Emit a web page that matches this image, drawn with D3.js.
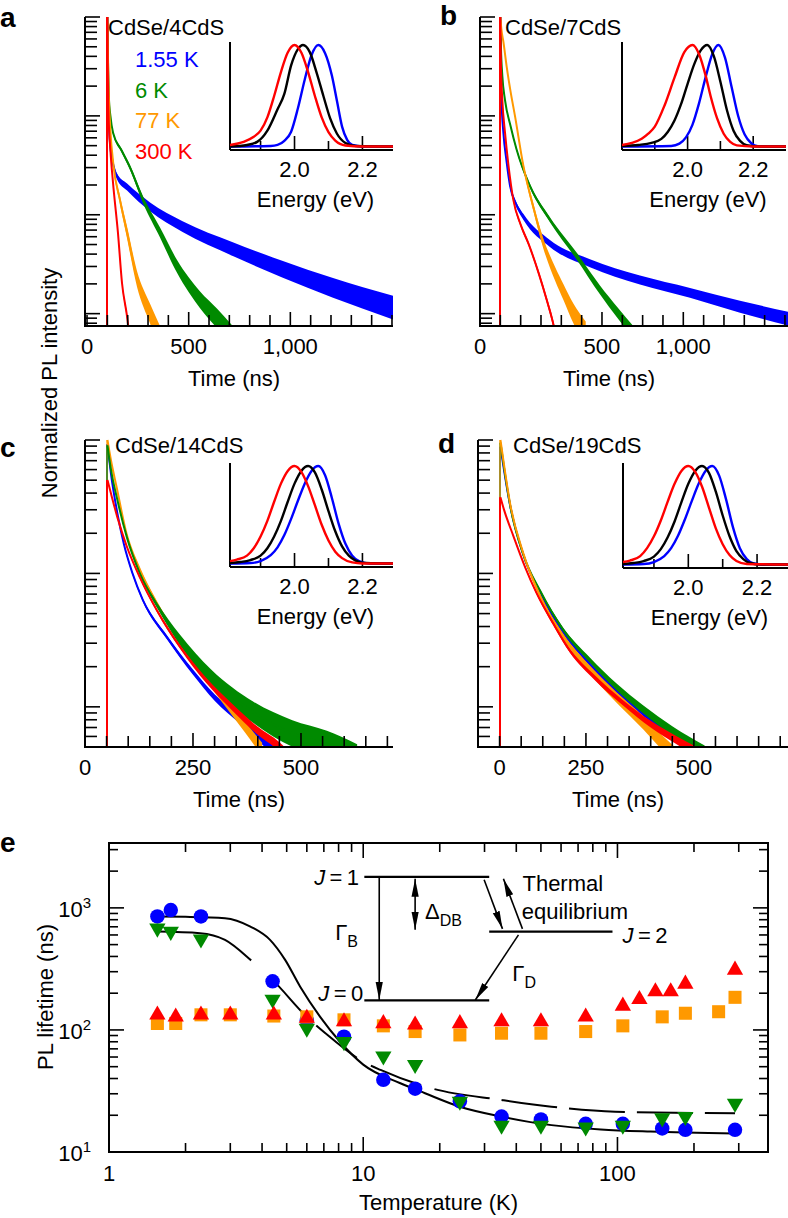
<!DOCTYPE html>
<html><head><meta charset="utf-8">
<script src="https://cdn.jsdelivr.net/npm/d3@7"></script>
<style>
body{margin:0;background:#fff}
svg{display:block}
text{font-family:"Liberation Sans",Arial,Helvetica,sans-serif;fill:#000}
</style></head>
<body><svg id="chart" width="788" height="1218"></svg>
<script>
// ================= DATA =================
// Decay traces: [time (ns), log10 normalized PL intensity, noise half-width (decades)]
// Panel a: CdSe/4CdS
const aBlue  =[[100,0,0],[103,-0.5,0],[106,-0.95,0.01],[113,-1.27,0.02],[125,-1.45,0.025],[147,-1.61,0.03],[197,-1.72,0.035],[310,-1.92,0.045],[470,-2.12,0.055],[720,-2.35,0.07],[960,-2.55,0.085],[1210,-2.74,0.1],[1505,-2.94,0.12]];
const aGreen =[[100,0,0],[103,-0.4,0],[107,-0.8,0.01],[115,-1.0,0.01],[128,-1.17,0.015],[170,-1.35,0.02],[211,-1.52,0.025],[276,-1.85,0.035],[359,-2.18,0.05],[442,-2.52,0.065],[556,-2.86,0.085],[640,-3.05,0.1],[740,-3.3,0.12]];
const aOrange=[[100,0,0],[103,-0.45,0],[107,-0.8,0.01],[115,-1.15,0.015],[130,-1.5,0.025],[162,-1.85,0.04],[197,-2.18,0.06],[246,-2.65,0.08],[310,-3.0,0.1],[360,-3.25,0.12]];
const aRed   =[[100,0,0],[102,-0.5,0],[106,-1.0,0],[115,-1.35,0.005],[128,-1.68,0.01],[152,-2.18,0.015],[172,-2.69,0.02],[197,-3.03,0.03],[210,-3.25,0.03]];
// Panel b: CdSe/7CdS
const bBlue  =[[100,0,0],[102,-0.5,0],[106,-0.85,0.005],[115,-1.17,0.01],[130,-1.45,0.015],[148,-1.71,0.02],[175,-1.88,0.025],[213,-2.02,0.03],[344,-2.29,0.035],[541,-2.49,0.04],[787,-2.66,0.045],[1033,-2.79,0.05],[1279,-2.93,0.06],[1515,-3.05,0.07]];
const bGreen =[[100,0,0],[103,-0.3,0],[110,-0.6,0.005],[123,-0.84,0.01],[150,-1.1,0.01],[180,-1.34,0.015],[246,-1.71,0.02],[344,-2.05,0.025],[476,-2.42,0.035],[590,-2.76,0.045],[680,-3.0,0.055],[760,-3.2,0.06]];
const bOrange=[[100,0,0],[105,-0.12,0],[115,-0.25,0.005],[131,-0.5,0.01],[150,-0.75,0.01],[172,-1.0,0.015],[213,-1.5,0.025],[262,-1.92,0.04],[310,-2.28,0.05],[370,-2.6,0.07],[410,-2.78,0.08],[460,-3.0,0.1],[520,-3.2,0.12]];
const bRed   =[[100,0,0],[103,-0.5,0],[110,-0.85,0.005],[123,-1.17,0.01],[140,-1.5,0.01],[164,-1.85,0.015],[200,-2.1,0.02],[240,-2.3,0.02],[290,-2.6,0.025],[328,-2.86,0.03],[360,-3.1,0.035],[380,-3.3,0.04]];
// Panel c: CdSe/14CdS
const cBlue  =[[52,-0.03,0],[60,-0.25,0],[75,-0.55,0.005],[90,-0.78,0.008],[110,-1.0,0.01],[134,-1.2,0.012],[190,-1.48,0.015],[250,-1.74,0.02],[300,-1.93,0.025],[360,-2.1,0.03],[430,-2.3,0.04],[470,-2.4,0.04]];
const cOrange=[[52,0,0],[60,-0.15,0],[73,-0.35,0.005],[96,-0.7,0.008],[127,-0.97,0.01],[166,-1.22,0.012],[212,-1.47,0.015],[266,-1.72,0.02],[328,-1.98,0.03],[370,-2.15,0.04],[410,-2.32,0.05]];
const cRed   =[[52,-0.3,0],[60,-0.4,0],[75,-0.58,0.005],[97,-0.8,0.008],[127,-1.03,0.01],[167,-1.28,0.012],[220,-1.55,0.015],[280,-1.8,0.02],[340,-2.0,0.025],[400,-2.18,0.03],[450,-2.3,0.035],[480,-2.4,0.04]];
const cGreen =[[52,-0.04,0],[60,-0.22,0],[75,-0.45,0.005],[97,-0.73,0.008],[127,-1.0,0.01],[167,-1.24,0.02],[220,-1.5,0.04],[292,-1.78,0.06],[389,-2.04,0.08],[480,-2.2,0.1],[560,-2.28,0.1],[630,-2.38,0.1]];
// Panel d: CdSe/19CdS
const dBlue  =[[52,-0.05,0],[60,-0.22,0],[75,-0.5,0.005],[105,-0.86,0.008],[144,-1.15,0.01],[197,-1.44,0.012],[259,-1.68,0.015],[321,-1.88,0.018],[383,-2.05,0.02],[450,-2.2,0.025],[510,-2.32,0.03]];
const dGreen =[[52,-0.02,0],[60,-0.2,0],[75,-0.5,0.005],[105,-0.86,0.008],[144,-1.13,0.01],[197,-1.42,0.015],[259,-1.65,0.02],[321,-1.85,0.025],[383,-2.02,0.03],[450,-2.18,0.035],[525,-2.33,0.04]];
const dOrange=[[52,0,0],[60,-0.18,0],[74,-0.47,0.005],[105,-0.85,0.01],[144,-1.17,0.015],[197,-1.47,0.02],[259,-1.72,0.03],[321,-1.93,0.04],[383,-2.12,0.05],[430,-2.28,0.055],[470,-2.4,0.06]];
const dRed   =[[52,-0.43,0],[60,-0.52,0],[82,-0.72,0.005],[110,-0.96,0.008],[136,-1.15,0.01],[175,-1.38,0.012],[213,-1.58,0.015],[270,-1.78,0.018],[336,-1.97,0.02],[400,-2.13,0.025],[460,-2.25,0.03],[515,-2.35,0.035]];

// Inset PL spectra: [energy (eV), normalized intensity]
const aSpecRed  =[[1.81,0.02],[1.85,0.05],[1.88,0.1],[1.90,0.16],[1.92,0.29],[1.94,0.5],[1.96,0.735],[1.98,0.926],[2.0,1.0],[2.02,0.926],[2.04,0.735],[2.06,0.5],[2.08,0.29],[2.10,0.146],[2.12,0.063],[2.15,0.015],[2.2,0.005],[2.29,0.005]];
const aSpecBlack=[[1.81,0.005],[1.86,0.02],[1.89,0.05],[1.92,0.16],[1.95,0.37],[1.97,0.52],[1.99,0.8],[2.01,0.96],[2.025,1.0],[2.045,0.93],[2.065,0.73],[2.085,0.5],[2.105,0.28],[2.125,0.13],[2.15,0.04],[2.18,0.01],[2.29,0.005]];
const aSpecBlue =[[1.81,0.005],[1.93,0.01],[1.95,0.02],[1.97,0.06],[1.99,0.15],[2.01,0.38],[2.03,0.66],[2.05,0.9],[2.07,1.0],[2.09,0.92],[2.11,0.7],[2.125,0.45],[2.14,0.2],[2.155,0.07],[2.17,0.02],[2.2,0.005],[2.29,0.005]];
const bSpecRed  =[[1.80,0.02],[1.83,0.04],[1.86,0.08],[1.88,0.13],[1.90,0.2],[1.93,0.41],[1.96,0.68],[1.99,0.93],[2.015,1.0],[2.035,0.91],[2.055,0.7],[2.07,0.5],[2.09,0.28],[2.11,0.13],[2.13,0.05],[2.15,0.016],[2.2,0.005],[2.3,0.005]];
const bSpecBlack=[[1.80,0.01],[1.85,0.02],[1.89,0.04],[1.92,0.08],[1.94,0.15],[1.96,0.26],[1.98,0.42],[2.0,0.62],[2.02,0.81],[2.04,0.947],[2.06,1.0],[2.08,0.89],[2.10,0.64],[2.12,0.36],[2.14,0.16],[2.16,0.06],[2.18,0.017],[2.22,0.005],[2.3,0.005]];
const bSpecBlue =[[1.80,0.005],[1.95,0.01],[1.975,0.033],[1.995,0.094],[2.015,0.22],[2.035,0.43],[2.055,0.685],[2.075,0.91],[2.094,1.0],[2.114,0.877],[2.134,0.59],[2.154,0.306],[2.174,0.122],[2.194,0.037],[2.214,0.009],[2.3,0.005]];
const cSpecRed  =[[1.81,0.03],[1.83,0.045],[1.86,0.085],[1.88,0.16],[1.90,0.28],[1.92,0.44],[1.94,0.635],[1.96,0.82],[1.98,0.95],[2.0,1.0],[2.02,0.94],[2.04,0.795],[2.06,0.6],[2.08,0.4],[2.10,0.24],[2.12,0.126],[2.14,0.06],[2.17,0.016],[2.2,0.005],[2.29,0.005]];
const cSpecBlack=[[1.81,0.01],[1.84,0.02],[1.87,0.04],[1.90,0.085],[1.92,0.16],[1.94,0.28],[1.96,0.44],[1.98,0.635],[2.0,0.82],[2.02,0.95],[2.04,1.0],[2.06,0.934],[2.08,0.76],[2.10,0.54],[2.12,0.334],[2.14,0.18],[2.16,0.085],[2.18,0.035],[2.21,0.01],[2.29,0.005]];
const cSpecBlue =[[1.81,0.005],[1.87,0.01],[1.90,0.03],[1.93,0.09],[1.95,0.17],[1.97,0.295],[1.99,0.46],[2.01,0.645],[2.03,0.82],[2.05,0.95],[2.07,1.0],[2.09,0.906],[2.11,0.674],[2.13,0.41],[2.15,0.206],[2.17,0.085],[2.19,0.029],[2.22,0.005],[2.29,0.005]];
const dSpecRed  =[[1.81,0.03],[1.83,0.045],[1.86,0.09],[1.88,0.17],[1.90,0.29],[1.92,0.45],[1.94,0.64],[1.96,0.82],[1.98,0.95],[2.0,1.0],[2.02,0.94],[2.04,0.79],[2.06,0.58],[2.08,0.37],[2.10,0.21],[2.12,0.1],[2.14,0.04],[2.17,0.01],[2.29,0.005]];
const dSpecBlack=[[1.81,0.01],[1.84,0.02],[1.87,0.04],[1.90,0.085],[1.92,0.16],[1.94,0.28],[1.96,0.44],[1.98,0.635],[2.0,0.82],[2.02,0.95],[2.04,1.0],[2.06,0.93],[2.08,0.74],[2.10,0.5],[2.12,0.29],[2.14,0.14],[2.16,0.06],[2.18,0.02],[2.21,0.005],[2.29,0.005]];
const dSpecBlue =[[1.81,0.005],[1.87,0.01],[1.90,0.03],[1.93,0.09],[1.95,0.17],[1.97,0.295],[1.99,0.46],[2.01,0.645],[2.03,0.82],[2.05,0.95],[2.07,1.0],[2.09,0.9],[2.11,0.66],[2.13,0.38],[2.15,0.17],[2.17,0.06],[2.19,0.015],[2.22,0.005],[2.29,0.005]];

// Time-axis tick labels: [position (ns), text]
const aTimeLabels=[[0,"0"],[500,"500"],[1000,"1,000"]];
const bTimeLabels=[[0,"0"],[600,"500"],[1000,"1,000"]];
const cTimeLabels=[[0,"0"],[250,"250"],[500,"500"]];
const dTimeLabels=[[50,"0"],[250,"250"],[500,"500"]];
const energyTicks=[1.9,2.0,2.1,2.2];
const energyLabels=[2.0,2.2];
const legendLabels=["1.55 K","6 K","77 K","300 K"];

// Panel e: [temperature (K), PL lifetime (ns)]
const eBlueCircles=[[1.55,850],[1.75,960],[2.3,850],[4.4,250],[6,120],[8.4,88],[12,39],[16,33],[24,26],[35,19.5],[50,18.5],[75,17],[105,17],[150,15.6],[185,15.2],[290,15.2]];
const eGreenTriangles=[[1.55,680],[1.75,640],[2.3,555],[4.4,178],[6,103],[8.4,80],[12,61],[16,52],[24,26],[35,16.5],[50,16.5],[75,16],[105,16.5],[150,19],[185,19.5],[290,25]];
const eOrangeSquares=[[1.55,113],[1.83,113],[2.3,133],[3.0,133],[4.45,130],[6,128],[8.4,121],[12,108],[16,97],[24,91],[35,94],[50,94],[75,97],[105,108],[150,128],[185,137],[250,141],[290,185]];
const eRedTriangles=[[1.55,133],[1.83,128],[2.3,133],[3.0,133],[4.45,133],[6,125],[8.4,117],[12,113],[16,110],[24,113],[35,117],[50,117],[75,128],[105,157],[122,178],[141,206],[162,206],[185,238],[290,310]];
const eFitSolid=[[1.55,850],[2.0,845],[2.86,824],[3.6,703],[4.3,547],[4.93,375],[5.65,226],[6.77,128],[8.1,80],[10,52],[14,36.6],[17.5,30.3],[24,23.5],[35,19.5],[55,16.6],[86,15.3],[135,14.7],[290,14.2]];
const eFitDashed=[[1.55,640],[2.28,621],[2.86,547],[3.67,363],[4.4,257],[6,128],[7.1,94],[10,55],[11.7,47],[18.8,33],[35,26.7],[55,23.5],[98,21.4],[290,20.8]];
const eXLabels=[1,10,100];
const eYLabels=[[10,"1"],[100,"2"],[1000,"3"]];

// ================= DRAWING =================
const svg=d3.select("#chart");
const COL={blue:"#0000ff",green:"#008a00",orange:"#ff9900",red:"#ff0000",black:"#000000"};
const FS=22;
const defs=svg.append("defs");

function text(g,x,y,str,opts={}){
  const t=g.append("text").attr("x",x).attr("y",y).attr("font-size",opts.size||FS).text(str);
  if(opts.anchor) t.attr("text-anchor",opts.anchor);
  if(opts.weight) t.attr("font-weight",opts.weight);
  if(opts.fill) t.style("fill",opts.fill);
  return t;
}

function decayPanel(cfg){
  const g=svg.append("g");
  const x=d3.scaleLinear().domain(cfg.tDomain).range([cfg.left,cfg.right]);
  const y=d3.scaleLog().domain(cfg.iDomain).range([cfg.bottom,cfg.top]);
  const cid="clip-"+cfg.id;
  defs.append("clipPath").attr("id",cid).append("rect")
    .attr("x",cfg.left).attr("y",cfg.top-3).attr("width",cfg.right-cfg.left).attr("height",cfg.bottom-cfg.top+3);
  const plot=g.append("g").attr("clip-path",`url(#${cid})`);
  const area=d3.area().x(p=>x(p[0])).y0(p=>y(10**(p[1]-p[2]))).y1(p=>y(10**(p[1]+p[2]))).curve(d3.curveMonotoneX);
  const line=d3.line().x(p=>x(p[0])).y(p=>y(10**p[1])).curve(d3.curveMonotoneX);
  const last=cfg.curves.length-1;
  cfg.curves.forEach((c,i)=>{
    const d=c.data;
    const rx=Math.round(x(d[0][0]));
    plot.append("line").attr("x1",rx).attr("x2",rx)
      .attr("y1",cfg.bottom).attr("y2",y(10**d[0][1])).attr("stroke",c.color).attr("stroke-width",i===last?2:1.2);
    plot.append("path").attr("d",area(d)).attr("fill",c.color);
    plot.append("path").attr("d",line(d)).attr("fill","none").attr("stroke",c.color).attr("stroke-width",2);
  });
  g.append("line").attr("x1",cfg.left).attr("x2",cfg.left).attr("y1",cfg.top).attr("y2",cfg.bottom+1).attr("stroke","#000").attr("stroke-width",2);
  g.append("line").attr("x1",cfg.left-1).attr("x2",cfg.right).attr("y1",cfg.bottom).attr("y2",cfg.bottom).attr("stroke","#000").attr("stroke-width",2);
  y.ticks().forEach(v=>{
    const major=Math.abs(Math.log10(v)-Math.round(Math.log10(v)))<1e-6;
    g.append("line").attr("x1",cfg.left).attr("x2",cfg.left+(major?15:12)).attr("y1",y(v)).attr("y2",y(v)).attr("stroke","#000").attr("stroke-width",1.6);
  });
  d3.range(cfg.tickStart,cfg.tDomain[1]+1e-6,cfg.tickStep).forEach(v=>{
    const major=cfg.majorTicks.includes(v);
    g.append("line").attr("x1",x(v)).attr("x2",x(v)).attr("y1",cfg.bottom).attr("y2",cfg.bottom-(major?14:11)).attr("stroke","#000").attr("stroke-width",1.6);
  });
  cfg.labels.forEach(([v,s])=>text(g,x(v),cfg.bottom+28,s,{anchor:"middle"}));
  text(g,(cfg.left+cfg.right)/2+cfg.titleDx,cfg.bottom+60,"Time (ns)",{anchor:"middle"});
  text(g,cfg.letterX,cfg.letterY,cfg.letter,{size:28,weight:"bold"});
  text(g,cfg.subX,cfg.subY,cfg.sub);
  const ins=cfg.inset;
  const ex=d3.scaleLinear().domain(ins.eDomain).range([ins.left,ins.right]);
  const ey=d3.scaleLinear().domain([0,1]).range([ins.base,ins.peak]);
  const sl=d3.line().x(p=>ex(p[0])).y(p=>ey(p[1])).curve(d3.curveMonotoneX);
  g.append("line").attr("x1",ins.left).attr("x2",ins.left).attr("y1",ins.top).attr("y2",ins.bottom).attr("stroke","#000").attr("stroke-width",2);
  g.append("line").attr("x1",ins.left).attr("x2",ins.right).attr("y1",ins.bottom).attr("y2",ins.bottom).attr("stroke","#000").attr("stroke-width",2);
  energyTicks.forEach(v=>{
    const major=energyLabels.includes(v);
    g.append("line").attr("x1",ex(v)).attr("x2",ex(v)).attr("y1",ins.bottom).attr("y2",ins.bottom-(major?14:9)).attr("stroke","#000").attr("stroke-width",1.6);
  });
  ins.curves.forEach(c=>{
    g.append("path").attr("d",sl(c.data)).attr("fill","none").attr("stroke",c.color).attr("stroke-width",2.4);
  });
  energyLabels.forEach(v=>text(g,ex(v),ins.bottom+27,v.toFixed(1),{anchor:"middle"}));
  text(g,(ins.left+ins.right)/2+4,ins.bottom+57,"Energy (eV)",{anchor:"middle"});
  return g;
}

const ySmall=[7.5e-4,1], yBig=[5e-3,1];
const gA=decayPanel({id:"a",left:85,right:393,top:17,bottom:326,tDomain:[-10,1505],iDomain:ySmall,
  tickStart:0,tickStep:100,majorTicks:[500,1000],labels:aTimeLabels,titleDx:-5,
  letter:"a",letterX:0,letterY:27,sub:"CdSe/4CdS",subX:108,subY:35,
  curves:[{data:aBlue,color:COL.blue},{data:aGreen,color:COL.green},{data:aOrange,color:COL.orange},{data:aRed,color:COL.red}],
  inset:{left:230,right:393,top:42,bottom:150,base:147,peak:45,eDomain:[1.81,2.29],
    curves:[{data:aSpecBlue,color:COL.blue},{data:aSpecBlack,color:COL.black},{data:aSpecRed,color:COL.red}]}});
const legendColors=[COL.blue,COL.green,COL.orange,COL.red];
legendLabels.forEach((s,i)=>text(gA,135,67+i*30.5,s,{fill:legendColors[i]}));

decayPanel({id:"b",left:480,right:788,top:17,bottom:326,tDomain:[0,1515],iDomain:ySmall,
  tickStart:0,tickStep:100,majorTicks:[600,1000],labels:bTimeLabels,titleDx:-25,
  letter:"b",letterX:440,letterY:25,sub:"CdSe/7CdS",subX:505,subY:35,
  curves:[{data:bBlue,color:COL.blue},{data:bGreen,color:COL.green},{data:bOrange,color:COL.orange},{data:bRed,color:COL.red}],
  inset:{left:622,right:786,top:42,bottom:150,base:147,peak:45,eDomain:[1.80,2.30],
    curves:[{data:bSpecBlue,color:COL.blue},{data:bSpecBlack,color:COL.black},{data:bSpecRed,color:COL.red}]}});

decayPanel({id:"c",left:85,right:393,top:440,bottom:747,tDomain:[0,713],iDomain:yBig,
  tickStart:0,tickStep:50,majorTicks:[250,500],labels:cTimeLabels,titleDx:0,
  letter:"c",letterX:0,letterY:457,sub:"CdSe/14CdS",subX:115,subY:453,
  curves:[{data:cBlue,color:COL.blue},{data:cOrange,color:COL.orange},{data:cGreen,color:COL.green},{data:cRed,color:COL.red}],
  inset:{left:230,right:393,top:463,bottom:567,base:564,peak:466,eDomain:[1.81,2.29],
    curves:[{data:cSpecBlue,color:COL.blue},{data:cSpecBlack,color:COL.black},{data:cSpecRed,color:COL.red}]}});

decayPanel({id:"d",left:478,right:788,top:440,bottom:747,tDomain:[0,718],iDomain:yBig,
  tickStart:0,tickStep:50,majorTicks:[250,500],labels:dTimeLabels,titleDx:-15,
  letter:"d",letterX:438,letterY:453,sub:"CdSe/19CdS",subX:513,subY:453,
  curves:[{data:dBlue,color:COL.blue},{data:dGreen,color:COL.green},{data:dOrange,color:COL.orange},{data:dRed,color:COL.red}],
  inset:{left:623,right:788,top:463,bottom:568,base:565,peak:466,eDomain:[1.81,2.29],
    curves:[{data:dSpecBlue,color:COL.blue},{data:dSpecBlack,color:COL.black},{data:dSpecRed,color:COL.red}]}});

svg.append("text").attr("transform","translate(57,383) rotate(-90)").attr("text-anchor","middle").attr("font-size",FS).text("Normalized PL intensity");

// ---------- Panel e ----------
const gE=svg.append("g");
const E={left:109,right:768,top:843,bottom:1152};
const xE=d3.scaleLog().domain([1,391]).range([E.left,E.right]);
const yE=d3.scaleLog().domain([10,3400]).range([E.bottom,E.top]);
const isMajor=v=>Math.abs(Math.log10(v)-Math.round(Math.log10(v)))<1e-6;
xE.ticks().forEach(v=>{
  const L=isMajor(v)?15:9;
  gE.append("line").attr("x1",xE(v)).attr("x2",xE(v)).attr("y1",E.bottom).attr("y2",E.bottom-L).attr("stroke","#000").attr("stroke-width",1.6);
  gE.append("line").attr("x1",xE(v)).attr("x2",xE(v)).attr("y1",E.top).attr("y2",E.top+L).attr("stroke","#000").attr("stroke-width",1.6);
});
yE.ticks().forEach(v=>{
  const L=isMajor(v)?15:9;
  gE.append("line").attr("x1",E.left).attr("x2",E.left+L).attr("y1",yE(v)).attr("y2",yE(v)).attr("stroke","#000").attr("stroke-width",1.6);
  gE.append("line").attr("x1",E.right).attr("x2",E.right-L).attr("y1",yE(v)).attr("y2",yE(v)).attr("stroke","#000").attr("stroke-width",1.6);
});
gE.append("rect").attr("x",E.left).attr("y",E.top).attr("width",E.right-E.left).attr("height",E.bottom-E.top).attr("fill","none").attr("stroke","#000").attr("stroke-width",2);
eXLabels.forEach(v=>text(gE,xE(v),E.bottom+29,String(v),{anchor:"middle"}));
eYLabels.forEach(([v,p])=>{
  const t=gE.append("text").attr("x",91).attr("y",yE(v)+9).attr("text-anchor","end").attr("font-size",FS);
  t.append("tspan").text("10");
  t.append("tspan").attr("dy",-9).attr("font-size",15).text(p);
});
text(gE,(E.left+E.right)/2,1210,"Temperature (K)",{anchor:"middle"});
svg.append("text").attr("transform","translate(53,997) rotate(-90)").attr("text-anchor","middle").attr("font-size",FS).text("PL lifetime (ns)");
text(gE,0,852,"e",{size:28,weight:"bold"});

const fitLine=d3.line().x(p=>xE(p[0])).y(p=>yE(p[1])).curve(d3.curveMonotoneX);
gE.append("path").attr("d",fitLine(eFitSolid)).attr("fill","none").attr("stroke","#000").attr("stroke-width",2);
gE.append("path").attr("d",fitLine(eFitDashed)).attr("fill","none").attr("stroke","#000").attr("stroke-width",2)
  .attr("stroke-dasharray","102,24,52,16,52,16,54,14,56,12,56,12,56,12,56,12,56,12,56,12,56,12,56,12");

const sym=(type,size)=>d3.symbol().type(type).size(size)();
gE.selectAll(".bc").data(eBlueCircles).join("path").attr("d",sym(d3.symbolCircle,165))
  .attr("transform",d=>`translate(${xE(d[0])},${yE(d[1])})`).attr("fill",COL.blue);
gE.selectAll(".gt").data(eGreenTriangles).join("path").attr("d",sym(d3.symbolTriangle,115))
  .attr("transform",d=>`translate(${xE(d[0])},${yE(d[1])}) rotate(180)`).attr("fill",COL.green);
gE.selectAll(".os").data(eOrangeSquares).join("path").attr("d",sym(d3.symbolSquare,170))
  .attr("transform",d=>`translate(${xE(d[0])},${yE(d[1])})`).attr("fill",COL.orange);
gE.selectAll(".rt").data(eRedTriangles).join("path").attr("d",sym(d3.symbolTriangle,115))
  .attr("transform",d=>`translate(${xE(d[0])},${yE(d[1])})`).attr("fill",COL.red);

defs.append("marker").attr("id","arr").attr("viewBox","-18 -5 18 10").attr("refX",0).attr("refY",0)
  .attr("markerWidth",18).attr("markerHeight",10).attr("markerUnits","userSpaceOnUse").attr("orient","auto-start-reverse")
  .append("path").attr("d","M0,0L-18,-3.6L-18,3.6Z").attr("fill","#000");
const dg=gE.append("g");
const seg=(t1,v1,t2,v2,w,a0,a1)=>{
  const l=dg.append("line").attr("x1",xE(t1)).attr("y1",yE(v1)).attr("x2",xE(t2)).attr("y2",yE(v2)).attr("stroke","#000").attr("stroke-width",w);
  if(a0) l.attr("marker-start","url(#arr)");
  if(a1) l.attr("marker-end","url(#arr)");
};
seg(10.1,1795,31.3,1795,2.2);
seg(31.3,640,95.6,640,2.2);
seg(10.1,174.6,31.3,174.6,2.2);
seg(11.56,1795,11.56,176,1.6,false,true);
seg(16.0,1730,16.0,661,1.6,true,true);
seg(29.9,1698,35.3,673,1.6,false,true);
seg(42.3,673,35.6,1730,1.6,false,true);
seg(40.8,601,27.6,176,1.6,false,true);
const jl=(T,tau,n,anchor)=>{
  const t=dg.append("text").attr("x",xE(T)).attr("y",yE(tau)).attr("font-size",FS).attr("text-anchor",anchor);
  t.append("tspan").attr("font-style","italic").text("J");
  t.append("tspan").text("\u2009=\u2009"+n);
};
jl(9.63,1545,"1","end");
jl(10.0,173,"0","end");
jl(104.7,516,"2","start");
const sub=(T,tau,main,s)=>{
  const t=dg.append("text").attr("x",xE(T)).attr("y",yE(tau)).attr("font-size",FS);
  t.append("tspan").text(main);
  t.append("tspan").attr("dy",7).attr("font-size",16).text(s);
};
sub(7.76,547,"\u0393","B");
sub(17.5,813,"\u0394","DB");
sub(38.6,252,"\u0393","D");
dg.append("text").attr("x",xE(42.3)).attr("y",yE(1377)).attr("font-size",FS).text("Thermal");
dg.append("text").attr("x",xE(42.0)).attr("y",yE(813)).attr("font-size",FS).text("equilibrium");
</script></body></html>
